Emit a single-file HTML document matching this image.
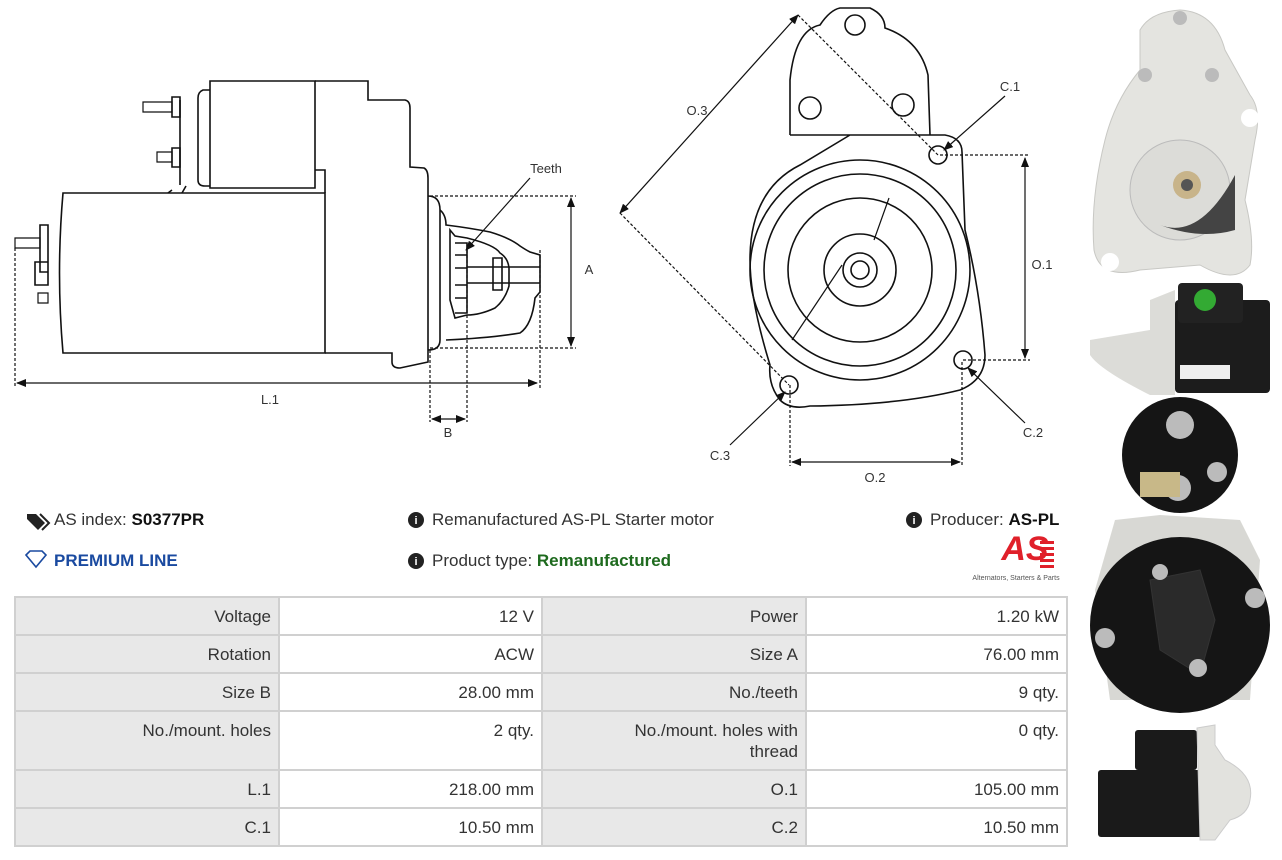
<!DOCTYPE html>
<html><head><meta charset="utf-8"><style>
body{margin:0;width:1282px;height:860px;background:#fff;font-family:"Liberation Sans",sans-serif;overflow:hidden;position:relative}
.t{position:absolute;font-size:17px;color:#333;white-space:nowrap}
table{position:absolute;left:14px;top:596px;border-collapse:separate;border-spacing:2px;background:#d0d0d0;width:1054px}
td{font-size:17px;color:#333;text-align:right;padding:0 7px;vertical-align:top;padding-top:8px;height:28px;line-height:21px;box-sizing:content-box}
td.g{background:#e8e8e8}td.w{background:#fff}
</style></head><body>
<svg width="1282" height="860" style="position:absolute;left:0;top:0" font-family="Liberation Sans, sans-serif">
<defs><marker id="a" markerWidth="10" markerHeight="8" refX="9" refY="4" orient="auto-start-reverse" markerUnits="userSpaceOnUse"><path d="M0,0 L10,4 L0,8 z" fill="#111"/></marker></defs>
<g fill="none" stroke="#111" stroke-width="1.6">
<path d="M63,193 L325,193 L325,353 L63,353 Q56,273 63,193 Z" fill="#fff"/>
<path d="M315,170 L325,170 L325,193"/>
<path d="M210,81 L315,81 L315,188 L210,188 Z"/>
<path d="M210,90 L203,90 Q198,92 198,98 L198,180 Q198,186 205,186 L210,186"/>
<path d="M180,100 L180,185 M186,186 L182,193 M172,190 L168,193"/>
<path d="M315,81 L368,81 L368,100 L405,100 Q410,101 410,108 L410,167 L424,168 Q428,170 428,178 L428,362 L400,368 Q392,368 392,362 L392,353 L325,353"/>
<path d="M172,97 L180,97 L180,117 L172,117 Z M172,148 L180,148 L180,167 L172,167 Z"/>
<path d="M143,102 L172,102 L172,112 L143,112 Z M157,152 L172,152 L172,162 L157,162 Z" stroke-width="1.2"/>
<path d="M40,225 L48,225 L48,272 L40,272 Z M35,262 L48,262 L48,285 L35,285 Z"/>
<path d="M15,238 L40,238 L40,248 L15,248 Z M38,293 L48,293 L48,303 L38,303 Z" stroke-width="1.2"/>
<path d="M428,196 Q440,196 440,210 L440,340 Q440,350 428,350"/>
<path d="M440,210 Q446,215 446,225 Q470,228 490,232 Q510,238 520,246 Q526,250 530,252 L540,255 L540,292 L535,298 Q532,325 520,333 Q490,338 446,340"/>
<path d="M450,230 L455,236 L467,238 Q495,245 500,253 Q508,258 509,268 L509,286 Q505,300 495,308 Q480,315 467,315 L455,318 L450,300 Z"/>
<path d="M455,243 L467,243 L467,313 L455,313 M455,255 L467,255 M455,268 L467,268 M455,285 L467,285 M455,298 L467,298"/>
<path d="M467,267 L540,267 M467,283 L540,283 M493,258 L502,258 L502,290 L493,290 Z"/>
<g stroke-dasharray="3,2" stroke-width="1.2">
<path d="M430,196 L576,196 M430,348 L576,348 M15,248 L15,388 M540,250 L540,388 M430,350 L430,422 M467,245 L467,422"/>
</g>
<path d="M790,135 L790,80 Q795,30 820,25 Q830,10 840,8 L870,8 Q885,15 885,28 Q920,40 928,75 L930,135"/>
<circle cx="855" cy="25" r="10"/><circle cx="810" cy="108" r="11"/><circle cx="903" cy="105" r="11"/>
<path d="M790,135 L850,135 L945,135 Q962,138 962,152 L965,230 Q980,290 985,355 Q985,380 960,390 Q900,405 810,406 Q790,410 780,400 Q768,385 770,365 Q750,300 750,260 Q750,190 800,165 L850,135" fill="#fff"/>
<circle cx="860" cy="270" r="110"/><circle cx="860" cy="270" r="96"/><circle cx="860" cy="270" r="72"/><circle cx="860" cy="270" r="36"/><circle cx="860" cy="270" r="17"/><circle cx="860" cy="270" r="9"/>
<path d="M792,340 L842,265 M889,198 L874,240" stroke-width="1.2"/>
<circle cx="938" cy="155" r="9"/><circle cx="963" cy="360" r="9"/><circle cx="789" cy="385" r="9"/>
<g stroke-dasharray="3,2" stroke-width="1.2">
<path d="M940,155 L1030,155 M963,360 L1030,360 M790,385 L790,466 M962,362 L962,466 M798,15 L938,155 M620,213 L789,385"/>
</g>
<g marker-start="url(#a)" marker-end="url(#a)" stroke-width="1.2">
<path d="M571,198 L571,346"/><path d="M17,383 L537,383"/><path d="M432,419 L465,419"/>
<path d="M1025,158 L1025,358"/><path d="M792,462 L960,462"/><path d="M620,213 L798,15"/>
</g>
<g marker-end="url(#a)" stroke-width="1.2">
<path d="M530,178 L466,250"/><path d="M1005,96 L944,150"/><path d="M1025,423 L968,368"/><path d="M730,445 L785,392"/>
</g>
</g>
<g font-size="13" fill="#333" text-anchor="middle">
<text x="546" y="173">Teeth</text><text x="589" y="274">A</text><text x="270" y="404">L.1</text><text x="448" y="437">B</text>
<text x="697" y="115">O.3</text><text x="1010" y="91">C.1</text><text x="1042" y="269">O.1</text><text x="1033" y="437">C.2</text><text x="720" y="460">C.3</text><text x="875" y="482">O.2</text>
</g>
<g>
<path d="M1140,30 Q1150,12 1180,10 Q1215,12 1225,50 L1250,95 Q1262,110 1255,140 L1245,200 Q1255,240 1250,265 Q1235,285 1200,265 L1140,270 Q1100,280 1094,250 Q1090,200 1105,140 Q1115,100 1140,70 Z" fill="#e4e4e0" stroke="#c8c8c4"/>
<circle cx="1180" cy="190" r="50" fill="#dcdcd8" stroke="#bbb"/>
<path d="M1160,225 Q1200,240 1235,175 L1235,230 Q1200,240 1160,225 Z" fill="#444"/>
<circle cx="1187" cy="185" r="14" fill="#c8b48a"/><circle cx="1187" cy="185" r="6" fill="#555"/>
<circle cx="1180" cy="18" r="7" fill="#bbb"/><circle cx="1145" cy="75" r="7" fill="#bbb"/><circle cx="1212" cy="75" r="7" fill="#bbb"/>
<circle cx="1250" cy="118" r="9" fill="#fff"/><circle cx="1110" cy="262" r="9" fill="#fff"/>
<path d="M1090,340 L1150,330 L1150,300 L1175,290 L1175,395 L1150,395 Q1100,370 1090,355 Z" fill="#dcdcd8"/>
<rect x="1175" y="300" width="95" height="93" rx="4" fill="#1c1c1c"/>
<rect x="1178" y="283" width="65" height="40" rx="4" fill="#222"/><circle cx="1205" cy="300" r="11" fill="#3a3" />
<rect x="1180" y="365" width="50" height="14" fill="#eee"/>
<circle cx="1180" cy="455" r="58" fill="#151515"/>
<path d="M1115,520 L1160,515 L1240,520 L1260,560 L1250,700 L1110,700 L1095,590 Z" fill="#d8d8d4"/>
<ellipse cx="1180" cy="625" rx="90" ry="88" fill="#151515"/>
<path d="M1150,580 L1200,570 L1215,620 L1200,675 L1160,650 Z" fill="#2a2a2a" stroke="#333"/>
<circle cx="1180" cy="425" r="14" fill="#bbb"/><circle cx="1178" cy="488" r="13" fill="#bbb"/><circle cx="1217" cy="472" r="10" fill="#bbb"/>
<rect x="1140" y="472" width="40" height="25" fill="#c8b888"/>
<circle cx="1160" cy="572" r="8" fill="#bbb"/><circle cx="1255" cy="598" r="10" fill="#bbb"/><circle cx="1105" cy="638" r="10" fill="#bbb"/><circle cx="1198" cy="668" r="9" fill="#bbb"/>
<rect x="1135" y="730" width="62" height="40" rx="3" fill="#1a1a1a"/>
<rect x="1098" y="770" width="110" height="67" rx="3" fill="#1a1a1a"/>
<path d="M1197,728 L1215,725 L1215,745 L1225,760 Q1255,775 1250,800 Q1248,815 1230,820 L1215,840 L1200,840 Z" fill="#e2e2de" stroke="#ccc"/>
</g>
<text x="1025" y="560" font-size="34" font-weight="bold" fill="#e0202a" font-style="italic" text-anchor="middle">AS</text>
<g fill="#e0202a"><rect x="1040" y="541" width="14" height="3"/><rect x="1040" y="547" width="14" height="3"/><rect x="1040" y="553" width="14" height="3"/><rect x="1040" y="559" width="14" height="3"/><rect x="1040" y="565" width="14" height="3"/></g>
<text x="1016" y="580" font-size="7" fill="#555" text-anchor="middle">Alternators, Starters &amp; Parts</text>
<path d="M27,514 L36,514 L45,523 L38,530 L27,519 Z" fill="#222"/><path d="M40,514 L49,523 L42,530" fill="none" stroke="#222" stroke-width="2"/>
<path d="M26,555 L30,551 L42,551 L46,555 L36,567 Z" fill="none" stroke="#1a4aa0" stroke-width="1.6"/>
<g fill="#222"><circle cx="416" cy="520" r="8"/><circle cx="416" cy="561" r="8"/><circle cx="914" cy="520" r="8"/></g>
<g fill="#fff" font-size="11" font-weight="bold" text-anchor="middle"><text x="416" y="524">i</text><text x="416" y="565">i</text><text x="914" y="524">i</text></g>
</svg>
<div class="t" style="left:54px;top:510px">AS index: <b style="color:#111">S0377PR</b></div>
<div class="t" style="left:54px;top:551px;color:#1a4aa0;font-weight:bold">PREMIUM LINE</div>
<div class="t" style="left:432px;top:510px">Remanufactured AS-PL Starter motor</div>
<div class="t" style="left:432px;top:551px">Product type: <b style="color:#1e6a1e">Remanufactured</b></div>
<div class="t" style="left:930px;top:510px">Producer: <b style="color:#111">AS-PL</b></div>
<table>
<tr><td class="g" style="width:248px">Voltage</td><td class="w" style="width:247px">12 V</td><td class="g" style="width:248px">Power</td><td class="w">1.20 kW</td></tr>
<tr><td class="g">Rotation</td><td class="w">ACW</td><td class="g">Size A</td><td class="w">76.00 mm</td></tr>
<tr><td class="g">Size B</td><td class="w">28.00 mm</td><td class="g">No./teeth</td><td class="w">9 qty.</td></tr>
<tr><td class="g" style="height:49px">No./mount. holes</td><td class="w">2 qty.</td><td class="g">No./mount. holes with<br>thread</td><td class="w">0 qty.</td></tr>
<tr><td class="g">L.1</td><td class="w">218.00 mm</td><td class="g">O.1</td><td class="w">105.00 mm</td></tr>
<tr><td class="g">C.1</td><td class="w">10.50 mm</td><td class="g">C.2</td><td class="w">10.50 mm</td></tr>
</table>
</body></html>
